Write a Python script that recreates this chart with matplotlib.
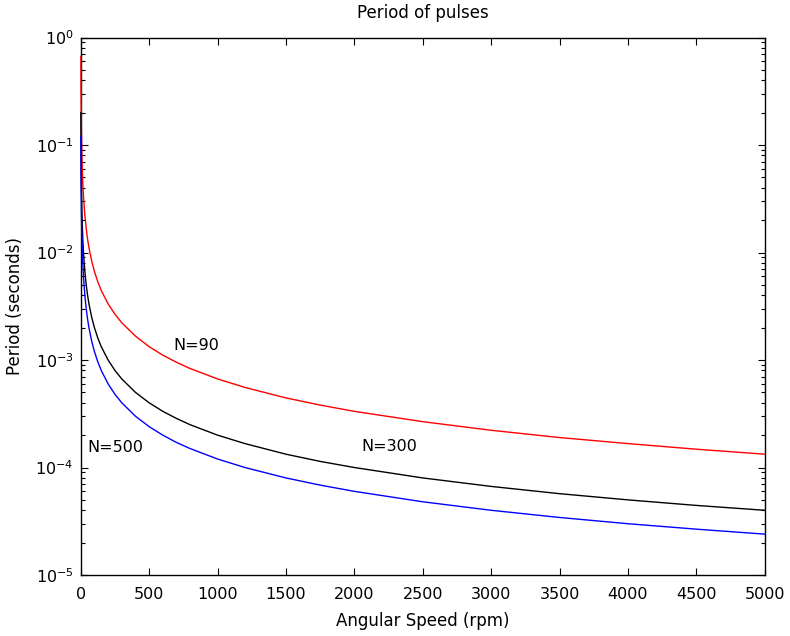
import matplotlib
matplotlib.use('Agg')
import matplotlib.pyplot as plt
from matplotlib.ticker import LogLocator, NullFormatter

plt.rcParams['font.family'] = ['DejaVu Sans']
plt.rcParams['mathtext.default'] = 'regular'

# angular speed samples (rpm) and period readings (seconds) per encoder
RPM = [1, 2, 3, 5, 7, 10, 15, 20, 30, 40, 50, 60, 80, 100, 125, 150, 200,
       250, 300, 400, 500, 600, 700, 800, 1000, 1200, 1500, 1750, 2000,
       2500, 3000, 3500, 4000, 4500, 5000]
PERIOD_N90 = [0.667, 0.333, 0.222, 0.133, 0.0952, 0.0667, 0.0444, 0.0333,
              0.0222, 0.0167, 0.0133, 0.0111, 0.00833, 0.00667, 0.00533,
              0.00444, 0.00333, 0.00267, 0.00222, 0.00167, 0.00133, 0.00111,
              0.000952, 0.000833, 0.000667, 0.000556, 0.000444, 0.000381,
              0.000333, 0.000267, 0.000222, 0.000190, 0.000167, 0.000148,
              0.000133]
PERIOD_N300 = [0.2, 0.1, 0.0667, 0.04, 0.0286, 0.02, 0.0133, 0.01, 0.00667,
               0.005, 0.004, 0.00333, 0.0025, 0.002, 0.0016, 0.00133, 0.001,
               0.0008, 0.000667, 0.0005, 0.0004, 0.000333, 0.000286, 0.00025,
               0.0002, 0.000167, 0.000133, 0.000114, 0.0001, 0.00008,
               0.0000667, 0.0000571, 0.00005, 0.0000444, 0.00004]
PERIOD_N500 = [0.12, 0.06, 0.04, 0.024, 0.0171, 0.012, 0.008, 0.006, 0.004,
               0.003, 0.0024, 0.002, 0.0015, 0.0012, 0.00096, 0.0008, 0.0006,
               0.00048, 0.0004, 0.0003, 0.00024, 0.0002, 0.000171, 0.00015,
               0.00012, 0.0001, 0.00008, 0.0000686, 0.00006, 0.000048,
               0.00004, 0.0000343, 0.00003, 0.0000267, 0.000024]

LABELS = ['N=90', 'N=300', 'N=500']
LABEL_POS = [(680, 1.36e-3), (2050, 1.58e-4), (45, 1.55e-4)]

fig = plt.figure(figsize=(7.9, 6.36), dpi=100)
ax = fig.add_axes([0.1022, 0.0959, 0.8658, 0.8451])

ax.plot(RPM, PERIOD_N90, color='red', lw=1.0, zorder=3, clip_on=False)
ax.plot(RPM, PERIOD_N300, color='black', lw=1.0, zorder=3, clip_on=False)
ax.plot(RPM, PERIOD_N500, color='blue', lw=1.0, zorder=3, clip_on=False)

for text, (x, y) in zip(LABELS, LABEL_POS):
    ax.text(x, y, text, fontsize=11.5, ha='left', va='center')

ax.set_yscale('log')
ax.set_xlim(0, 5000)
ax.set_ylim(1e-5, 1)
ax.set_xticks(range(0, 5001, 500))
ax.yaxis.set_major_locator(LogLocator(base=10, numticks=10))
ax.yaxis.set_minor_locator(LogLocator(base=10, subs=range(2, 10), numticks=20))
ax.yaxis.set_minor_formatter(NullFormatter())
ax.tick_params(which='both', direction='in', top=True, right=True,
               labelsize=11.5, width=0.8)
ax.tick_params(which='major', length=5)
ax.tick_params(which='minor', length=3)
ax.tick_params(axis='x', pad=8.5)
ax.tick_params(axis='y', pad=5)
for spine in ax.spines.values():
    spine.set_linewidth(1.0)

ax.set_title('Period of pulses', fontsize=12, pad=14)
ax.set_xlabel('Angular Speed (rpm)', fontsize=12, labelpad=7)
ax.set_ylabel('Period (seconds)', fontsize=12, labelpad=8)

fig.savefig('out.png', dpi=100)
